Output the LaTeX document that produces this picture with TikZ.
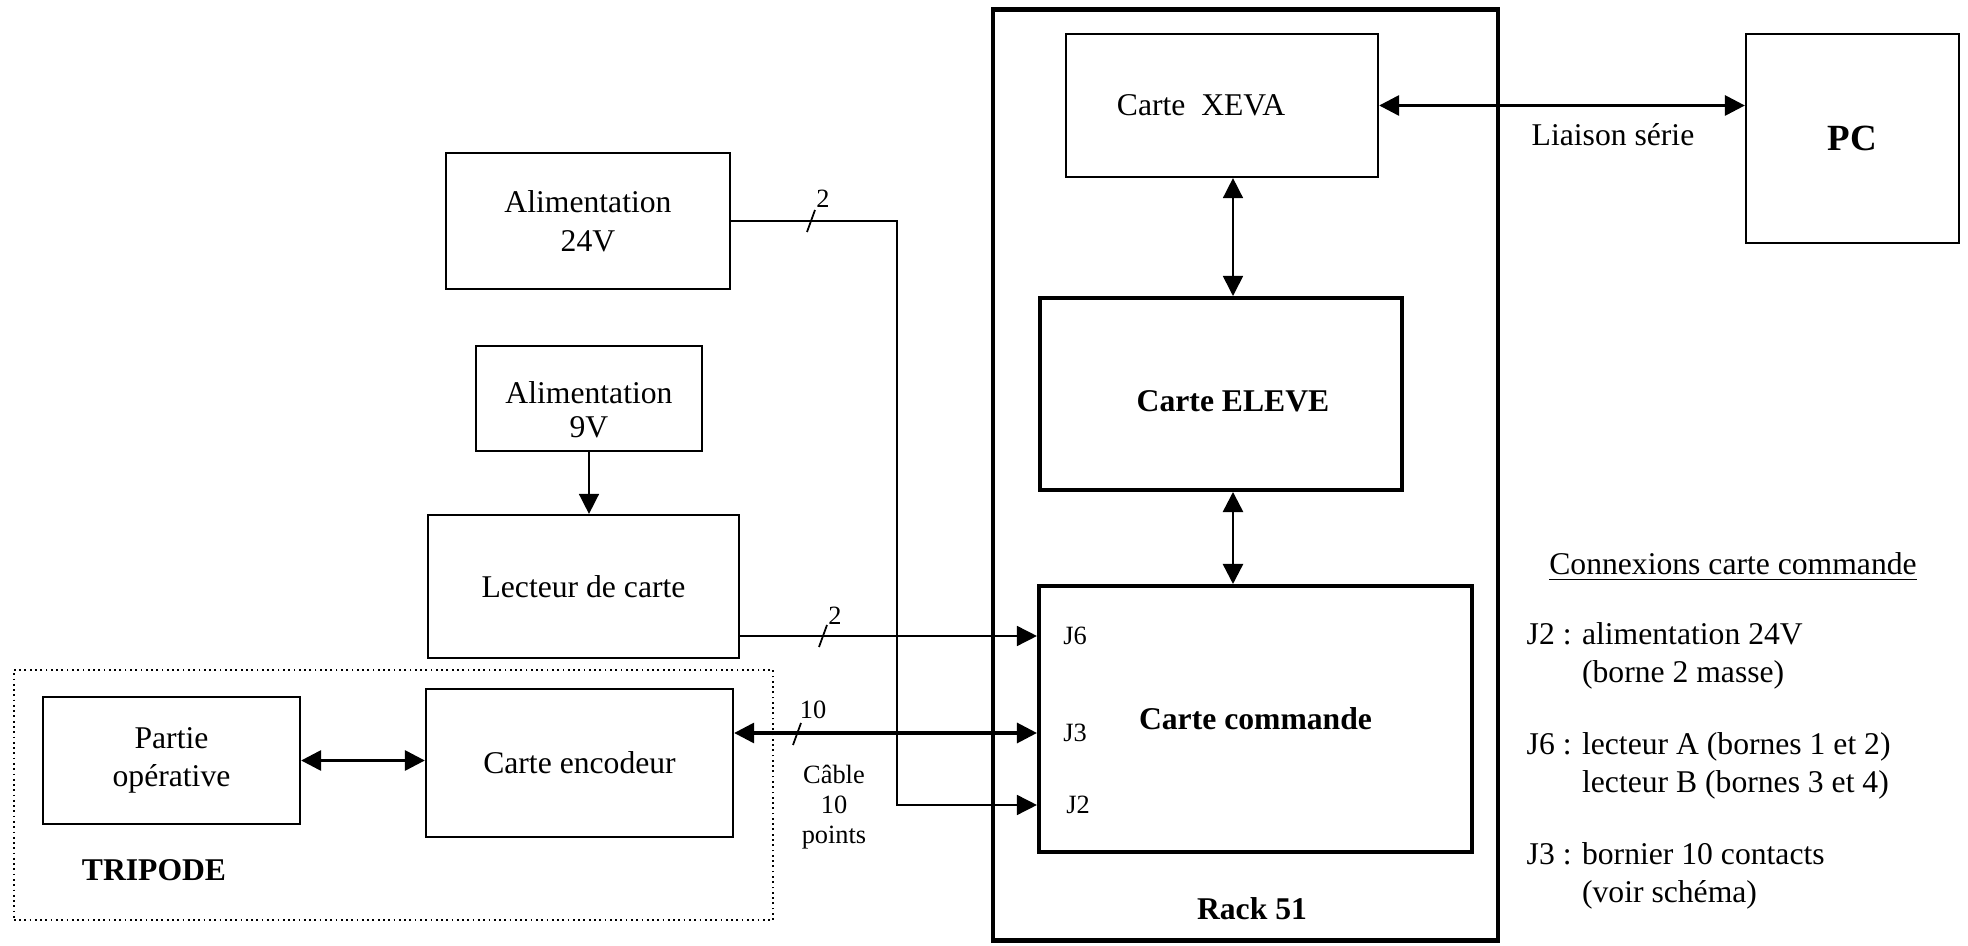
\documentclass[tikz,border=0pt]{standalone}
\usepackage{fontspec}
\setmainfont{Liberation Serif}
\usetikzlibrary{arrows.meta}

\tikzset{
    box/.style={draw, line width=0.6pt, align=center, inner sep=0pt, font=\fontsize{9}{11}\selectfont},
    bigbox/.style={box, line width=1.1pt, font=\fontsize{9}{11}\selectfont\bfseries},
    title/.style={inner sep=0pt, font=\fontsize{9}{11}\selectfont\bfseries},
    tag/.style={inner sep=0pt, align=center, font=\fontsize{7.5}{8.5}\selectfont},
    note/.style={inner sep=0pt, align=left, font=\fontsize{9}{10.8}\selectfont},
    link/.style={line width=0.45pt, -{Triangle[length=5.7pt,width=5.7pt]}},
    dlink/.style={line width=0.45pt, {Triangle[length=5.7pt,width=5.7pt]}-{Triangle[length=5.7pt,width=5.7pt]}},
}

\begin{document}
\begin{tikzpicture}[x=0.01cm, y=-0.01cm]
    \useasboundingbox (0,0) rectangle (1968,946);

    % Rack 51
    \node[draw, line width=1.3pt, minimum width=5.05cm, minimum height=9.30cm] (rack) at (1245.5,475) {};
    \node[title] (rackname) at (1252,909) {Rack 51};
    \node[box, minimum width=3.12cm, minimum height=1.43cm] (xeva) at (1222,105.5) {};
    \node[box, draw=none] (xevaname) at (1201,105) {Carte\ \ XEVA};
    \node[bigbox, minimum width=3.62cm, minimum height=1.92cm] (eleve) at (1221,394) {};
    \node[title] (elevename) at (1233,401) {Carte ELEVE};
    \node[bigbox, minimum width=4.33cm, minimum height=2.66cm] (cmd) at (1255.5,719) {Carte commande};
    \node[tag] (J6) at (1075,636) {J6};
    \node[tag] (J3) at (1075,733) {J3};
    \node[tag] (J2) at (1078,805) {J2};

    % PC
    \node[box, minimum width=2.13cm, minimum height=2.09cm, font=\fontsize{10.5}{12}\selectfont\bfseries] (pc) at (1852.5,138.5) {PC};
    \node[box, draw=none] (serie) at (1613,135) {Liaison série};

    % Alimentations et lecteur
    \node[box, minimum width=2.84cm, minimum height=1.36cm] (alim24) at (588,221) {Alimentation\\24V};
    \node[box, minimum width=2.26cm, minimum height=1.05cm] (alim9) at (589,398.5) {};
    \node[box, draw=none, font=\fontsize{9}{9.8}\selectfont] (alim9name) at (589,410) {Alimentation\\9V};
    \node[box, minimum width=3.11cm, minimum height=1.43cm] (lect) at (583.5,586.5) {Lecteur de carte};

    % Tripode
    \node[draw, densely dotted, line width=0.5pt, minimum width=7.59cm, minimum height=2.50cm] (tripode) at (393.5,795) {};
    \node[title] (tripodename) at (154,870) {TRIPODE};
    \node[box, minimum width=2.57cm, minimum height=1.27cm] (partie) at (171.5,760.5) {Partie\\opérative};
    \node[box, minimum width=3.07cm, minimum height=1.48cm] (enc) at (579.5,763) {Carte encodeur};

    % Liaisons
    \coordinate (bus) at (1233,0);
    \coordinate (drop) at (897,0);
    \draw[dlink, line width=0.9pt] (xeva.east) -- (xeva.east -| pc.west);
    \draw[dlink] (xeva.south -| bus) -- (eleve.north -| bus);
    \draw[dlink, line width=0.7pt] (eleve.south -| bus) -- (cmd.north -| bus);
    \draw[link] (alim9.south) -- (alim9.south |- lect.north);
    \draw[link] (alim24.east) -- (alim24.east -| drop) |- (cmd.west |- J2);
    \draw[link] (lect.east |- J6) -- (cmd.west |- J6);
    \draw[dlink, line width=0.9pt] (enc.east |- J3) -- (cmd.west |- J3);
    \draw[dlink, line width=0.9pt] (partie.east) -- (partie.east -| enc.west);

    % Nombre de fils
    \coordinate (m1) at (811,221);
    \coordinate (m2) at (823,636);
    \coordinate (m3) at (797,734);
    \draw[line width=0.5pt] ([shift={(-4,11)}]m1) -- ([shift={(4,-11)}]m1);
    \draw[line width=0.5pt] ([shift={(-4,11)}]m2) -- ([shift={(4,-11)}]m2);
    \draw[line width=0.5pt] ([shift={(-4,11)}]m3) -- ([shift={(4,-11)}]m3);
    \node[tag] (n1) at (823,199) {2};
    \node[tag] (n2) at (835,616) {2};
    \node[tag] (n3) at (813,710) {10};
    \node[tag] (cable) at (834,807) {Câble\\10\\points};

    % Connexions carte commande
    \node[note] (conx) at (1733,567) {\underline{Connexions carte commande}};
    \node[note, anchor=west] (noteJ2) at (1526,656) {J2 : alimentation 24V\\\hphantom{J2 : }(borne 2 masse)};
    \node[note, anchor=west] (noteJ6) at (1526,766) {J6 : lecteur A (bornes 1 et 2)\\\hphantom{J6 : }lecteur B (bornes 3 et 4)};
    \node[note, anchor=west] (noteJ3) at (1526,876) {J3 : bornier 10 contacts\\\hphantom{J3 : }(voir schéma)};
\end{tikzpicture}
\end{document}
